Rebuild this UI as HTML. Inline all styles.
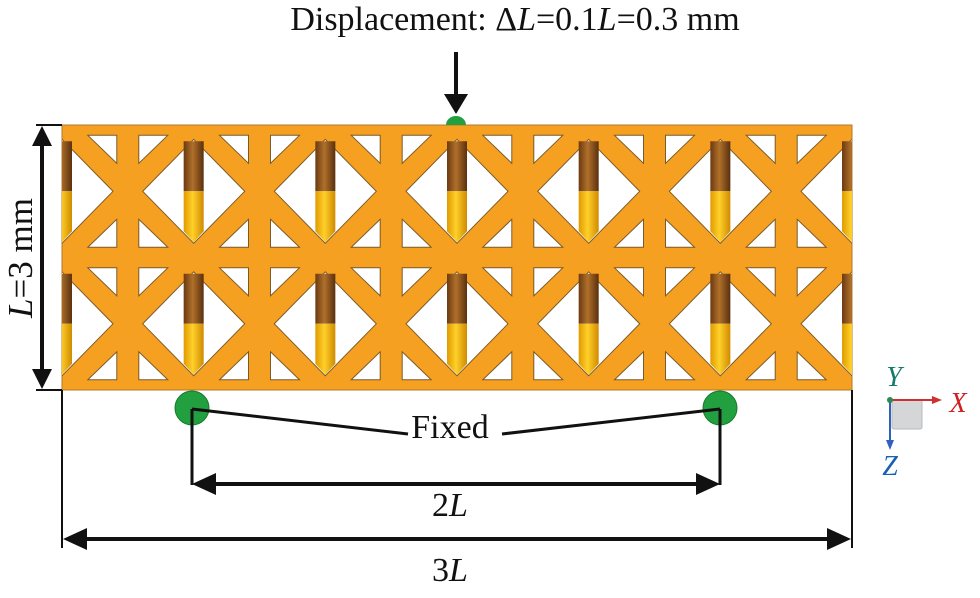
<!DOCTYPE html>
<html><head><meta charset="utf-8"><style>
html,body{margin:0;padding:0;background:#fff;}
svg{display:block;}
text{font-family:"Liberation Serif",serif;fill:#111;}
</style></head><body>
<svg id="s" width="980" height="598" viewBox="0 0 980 598" xmlns="http://www.w3.org/2000/svg">
<defs>
<linearGradient id="br" x1="0" x2="1"><stop offset="0" stop-color="#6b3a12"/><stop offset="0.45" stop-color="#b0702a"/><stop offset="1" stop-color="#5a300e"/></linearGradient>
<linearGradient id="ye" x1="0" x2="1"><stop offset="0" stop-color="#e09a00"/><stop offset="0.45" stop-color="#ffd02a"/><stop offset="1" stop-color="#d08a00"/></linearGradient>
<clipPath id="cp"><rect x="62" y="125" width="790" height="265"/></clipPath>
</defs>
<rect x="62" y="125" width="790" height="265" fill="#f5a020" stroke="#b07a30" stroke-width="1"/>
<g id="lat" clip-path="url(#cp)"></g>
<text x="515" y="30" font-size="34" text-anchor="middle">Displacement: Δ<tspan font-style="italic">L</tspan>=0.1<tspan font-style="italic">L</tspan>=0.3 mm</text>
<line x1="456" y1="52" x2="456" y2="98" stroke="#111" stroke-width="4"/>
<path d="M444,94 L468,94 L456,114 z" fill="#111"/>
<path d="M446,125 A10,9 0 0 1 466,125 z" fill="#22a040"/>
<line x1="36" y1="125" x2="62" y2="125" stroke="#111" stroke-width="2"/>
<line x1="36" y1="390" x2="62" y2="390" stroke="#111" stroke-width="2"/>
<line x1="42" y1="140" x2="42" y2="375" stroke="#111" stroke-width="4"/>
<path d="M32,146 L52,146 L42,126 z" fill="#111"/>
<path d="M32,369 L52,369 L42,389 z" fill="#111"/>
<text transform="translate(32,258) rotate(-90)" font-size="35" text-anchor="middle"><tspan font-style="italic">L</tspan>=3 mm</text>
<circle cx="192" cy="408" r="17" fill="#22a040" stroke="#157a2a" stroke-width="1"/>
<circle cx="720" cy="408" r="17" fill="#22a040" stroke="#157a2a" stroke-width="1"/>
<line x1="192" y1="409" x2="408" y2="434" stroke="#111" stroke-width="3"/>
<line x1="502" y1="434" x2="720" y2="409" stroke="#111" stroke-width="3"/>
<text x="450" y="438" font-size="34" text-anchor="middle">Fixed</text>
<line x1="192" y1="409" x2="192" y2="485" stroke="#111" stroke-width="3"/>
<line x1="720" y1="409" x2="720" y2="485" stroke="#111" stroke-width="3"/>
<line x1="210" y1="484" x2="702" y2="484" stroke="#111" stroke-width="4"/>
<path d="M192,484 L216,473 L216,495 z" fill="#111"/>
<path d="M720,484 L696,473 L696,495 z" fill="#111"/>
<text x="450" y="516" font-size="34" text-anchor="middle">2<tspan font-style="italic">L</tspan></text>
<line x1="62" y1="390" x2="62" y2="548" stroke="#111" stroke-width="2"/>
<line x1="852" y1="390" x2="852" y2="548" stroke="#111" stroke-width="2"/>
<line x1="80" y1="539" x2="834" y2="539" stroke="#111" stroke-width="4"/>
<path d="M63,539 L87,528 L87,550 z" fill="#111"/>
<path d="M851,539 L827,528 L827,550 z" fill="#111"/>
<text x="450" y="581" font-size="34" text-anchor="middle">3<tspan font-style="italic">L</tspan></text>
<rect x="892" y="400" width="30" height="29" fill="#d4d6d8" stroke="#b8babc" rx="2"/>
<line x1="890" y1="400" x2="934" y2="400" stroke="#d03030" stroke-width="2"/>
<path d="M932,396 L942,400 L932,404 z" fill="#d03030"/>
<line x1="890" y1="400" x2="890" y2="442" stroke="#3060c0" stroke-width="2"/>
<path d="M886,440 L890,450 L894,440 z" fill="#3060c0"/>
<circle cx="890" cy="400" r="3" fill="#2a8a50"/>
<text x="894" y="386" font-size="28" font-style="italic" text-anchor="middle" style="fill:#157a6a">Y</text>
<text x="958" y="412" font-size="28" font-style="italic" text-anchor="middle" style="fill:#d02020">X</text>
<text x="890" y="475" font-size="28" font-style="italic" text-anchor="middle" style="fill:#1a60b0">Z</text>
</svg>
<script>
(function(){
var g=document.getElementById('lat'),p=131.67,rows=[191.25,323.75],out='';
function poly(pts,fill){return '<polygon points="'+pts.map(function(a){return a[0].toFixed(1)+','+a[1].toFixed(1)}).join(' ')+'" fill="'+fill+'" stroke="#7a5a2a" stroke-width="1"/>';}
rows.forEach(function(Y){
 for(var k=0;k<6;k++){var X=62+p*(k+0.5);
  out+=poly([[X-40,Y-56],[X-11,Y-56],[X-11,Y-28]],'#fff');
  out+=poly([[X+11,Y-56],[X+40,Y-56],[X+11,Y-28]],'#fff');
  out+=poly([[X-40,Y+56],[X-11,Y+56],[X-11,Y+28]],'#fff');
  out+=poly([[X+11,Y+56],[X+40,Y+56],[X+11,Y+28]],'#fff');}
 for(var k=0;k<=6;k++){var X=62+p*k;
  out+=poly([[X,Y-52],[X+51,Y],[X,Y+52],[X-51,Y]],'#fff');
  out+='<rect x="'+(X-10)+'" y="'+(Y-50)+'" width="20" height="50" fill="url(#br)"/>';
  out+='<path d="M'+(X-10)+','+Y+' L'+(X+10)+','+Y+' L'+(X+10)+','+(Y+40)+' L'+X+','+(Y+51)+' L'+(X-10)+','+(Y+40)+' z" fill="url(#ye)"/>';}
});
g.innerHTML=out;
})();
</script>
</body></html>
